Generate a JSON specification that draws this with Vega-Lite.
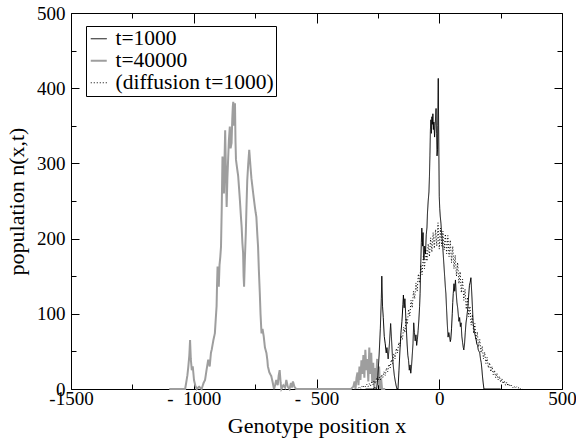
{
  "$schema": "https://vega.github.io/schema/vega-lite/v6.json",
  "width": 491,
  "height": 376,
  "autosize": {"type": "none"},
  "padding": {"left": 71, "top": 13, "right": 14, "bottom": 53},
  "background": "white",
  "config": {
    "view": {"stroke": null},
    "font": "Liberation Serif",
    "axis": {"grid": false, "domain": true, "domainColor": "black", "domainWidth": 1, "zindex": 1, "labelFont": "Liberation Serif", "titleFont": "Liberation Serif", "labelColor": "black", "titleColor": "black", "tickColor": "black", "labelFontSize": 19, "titleFontSize": 22, "titleFontWeight": "normal", "labelFlush": false, "labelOverlap": false},
    "legend": {"labelFont": "Liberation Serif", "labelFontSize": 21.5, "labelColor": "black", "symbolType": "stroke", "symbolSize": 256, "strokeColor": "black", "fillColor": "white", "padding": 2, "rowPadding": -3, "labelOffset": 6, "labelLimit": 300}
  },
  "datasets": {
    "black": [
      {"s":"t=1000","x":-300,"y":0},{"s":"t=1000","x":-270,"y":0},{"s":"t=1000","x":-262,"y":2},{"s":"t=1000","x":-255,"y":0},{"s":"t=1000","x":-250,"y":18},{"s":"t=1000","x":-245,"y":45},{"s":"t=1000","x":-240,"y":80},{"s":"t=1000","x":-236,"y":120},{"s":"t=1000","x":-234,"y":150},{"s":"t=1000","x":-231,"y":110},{"s":"t=1000","x":-228,"y":95},{"s":"t=1000","x":-224,"y":70},{"s":"t=1000","x":-220,"y":60},{"s":"t=1000","x":-216,"y":48},{"s":"t=1000","x":-213,"y":55},{"s":"t=1000","x":-208,"y":40},{"s":"t=1000","x":-203,"y":60},{"s":"t=1000","x":-198,"y":87},{"s":"t=1000","x":-195,"y":70},{"s":"t=1000","x":-191,"y":45},{"s":"t=1000","x":-187,"y":30},{"s":"t=1000","x":-183,"y":18},{"s":"t=1000","x":-180,"y":12},{"s":"t=1000","x":-176,"y":5},{"s":"t=1000","x":-172,"y":0},{"s":"t=1000","x":-168,"y":0},{"s":"t=1000","x":-164,"y":25},{"s":"t=1000","x":-160,"y":52},{"s":"t=1000","x":-156,"y":75},{"s":"t=1000","x":-152,"y":90},{"s":"t=1000","x":-148,"y":112},{"s":"t=1000","x":-146,"y":125},{"s":"t=1000","x":-143,"y":108},{"s":"t=1000","x":-140,"y":120},{"s":"t=1000","x":-137,"y":101},{"s":"t=1000","x":-134,"y":80},{"s":"t=1000","x":-131,"y":60},{"s":"t=1000","x":-128,"y":45},{"s":"t=1000","x":-125,"y":38},{"s":"t=1000","x":-122,"y":25},{"s":"t=1000","x":-119,"y":32},{"s":"t=1000","x":-116,"y":21},{"s":"t=1000","x":-113,"y":30},{"s":"t=1000","x":-110,"y":45},{"s":"t=1000","x":-107,"y":60},{"s":"t=1000","x":-104,"y":88},{"s":"t=1000","x":-101,"y":75},{"s":"t=1000","x":-98,"y":64},{"s":"t=1000","x":-95,"y":72},{"s":"t=1000","x":-92,"y":58},{"s":"t=1000","x":-89,"y":66},{"s":"t=1000","x":-86,"y":78},{"s":"t=1000","x":-83,"y":92},{"s":"t=1000","x":-80,"y":110},{"s":"t=1000","x":-78,"y":127},{"s":"t=1000","x":-75,"y":170},{"s":"t=1000","x":-73,"y":195},{"s":"t=1000","x":-71,"y":214},{"s":"t=1000","x":-68,"y":190},{"s":"t=1000","x":-66,"y":208},{"s":"t=1000","x":-64,"y":175},{"s":"t=1000","x":-62,"y":172},{"s":"t=1000","x":-59,"y":190},{"s":"t=1000","x":-56,"y":180},{"s":"t=1000","x":-53,"y":205},{"s":"t=1000","x":-50,"y":215},{"s":"t=1000","x":-48,"y":234},{"s":"t=1000","x":-45,"y":250},{"s":"t=1000","x":-42,"y":262},{"s":"t=1000","x":-40,"y":282},{"s":"t=1000","x":-38,"y":310},{"s":"t=1000","x":-36,"y":345},{"s":"t=1000","x":-34,"y":358},{"s":"t=1000","x":-32,"y":340},{"s":"t=1000","x":-30,"y":362},{"s":"t=1000","x":-28,"y":352},{"s":"t=1000","x":-26,"y":366},{"s":"t=1000","x":-24,"y":345},{"s":"t=1000","x":-22,"y":355},{"s":"t=1000","x":-19,"y":335},{"s":"t=1000","x":-17,"y":350},{"s":"t=1000","x":-15,"y":360},{"s":"t=1000","x":-13,"y":373},{"s":"t=1000","x":-11,"y":340},{"s":"t=1000","x":-9,"y":310},{"s":"t=1000","x":-7,"y":318},{"s":"t=1000","x":-6,"y":350},{"s":"t=1000","x":-4,"y":413},{"s":"t=1000","x":-2,"y":330},{"s":"t=1000","x":0,"y":256},{"s":"t=1000","x":2,"y":240},{"s":"t=1000","x":4,"y":230},{"s":"t=1000","x":7,"y":220},{"s":"t=1000","x":10,"y":205},{"s":"t=1000","x":13,"y":195},{"s":"t=1000","x":16,"y":180},{"s":"t=1000","x":19,"y":165},{"s":"t=1000","x":22,"y":150},{"s":"t=1000","x":25,"y":135},{"s":"t=1000","x":27,"y":127},{"s":"t=1000","x":30,"y":105},{"s":"t=1000","x":33,"y":85},{"s":"t=1000","x":36,"y":69},{"s":"t=1000","x":39,"y":75},{"s":"t=1000","x":42,"y":70},{"s":"t=1000","x":45,"y":63},{"s":"t=1000","x":47,"y":66},{"s":"t=1000","x":50,"y":80},{"s":"t=1000","x":53,"y":100},{"s":"t=1000","x":55,"y":115},{"s":"t=1000","x":57,"y":127},{"s":"t=1000","x":60,"y":140},{"s":"t=1000","x":63,"y":130},{"s":"t=1000","x":66,"y":145},{"s":"t=1000","x":69,"y":128},{"s":"t=1000","x":72,"y":115},{"s":"t=1000","x":75,"y":108},{"s":"t=1000","x":77,"y":101},{"s":"t=1000","x":80,"y":90},{"s":"t=1000","x":83,"y":95},{"s":"t=1000","x":86,"y":83},{"s":"t=1000","x":89,"y":88},{"s":"t=1000","x":92,"y":70},{"s":"t=1000","x":95,"y":62},{"s":"t=1000","x":98,"y":55},{"s":"t=1000","x":100,"y":52},{"s":"t=1000","x":103,"y":60},{"s":"t=1000","x":106,"y":75},{"s":"t=1000","x":109,"y":88},{"s":"t=1000","x":112,"y":95},{"s":"t=1000","x":114,"y":101},{"s":"t=1000","x":117,"y":110},{"s":"t=1000","x":120,"y":125},{"s":"t=1000","x":123,"y":138},{"s":"t=1000","x":126,"y":142},{"s":"t=1000","x":129,"y":148},{"s":"t=1000","x":132,"y":130},{"s":"t=1000","x":135,"y":110},{"s":"t=1000","x":138,"y":88},{"s":"t=1000","x":141,"y":80},{"s":"t=1000","x":144,"y":75},{"s":"t=1000","x":147,"y":70},{"s":"t=1000","x":150,"y":66},{"s":"t=1000","x":153,"y":60},{"s":"t=1000","x":156,"y":58},{"s":"t=1000","x":159,"y":52},{"s":"t=1000","x":162,"y":50},{"s":"t=1000","x":165,"y":48},{"s":"t=1000","x":168,"y":40},{"s":"t=1000","x":171,"y":35},{"s":"t=1000","x":174,"y":25},{"s":"t=1000","x":176,"y":17},{"s":"t=1000","x":179,"y":8},{"s":"t=1000","x":182,"y":0},{"s":"t=1000","x":250,"y":0}
    ],
    "gray": [
      {"s":"t=40000","x":-1100,"y":0},{"s":"t=40000","x":-1035,"y":0},{"s":"t=40000","x":-1030,"y":10},{"s":"t=40000","x":-1026,"y":18},{"s":"t=40000","x":-1022,"y":30},{"s":"t=40000","x":-1018,"y":45},{"s":"t=40000","x":-1015,"y":65},{"s":"t=40000","x":-1012,"y":40},{"s":"t=40000","x":-1008,"y":25},{"s":"t=40000","x":-1004,"y":30},{"s":"t=40000","x":-999,"y":12},{"s":"t=40000","x":-994,"y":5},{"s":"t=40000","x":-988,"y":0},{"s":"t=40000","x":-978,"y":3},{"s":"t=40000","x":-968,"y":0},{"s":"t=40000","x":-960,"y":8},{"s":"t=40000","x":-954,"y":12},{"s":"t=40000","x":-948,"y":25},{"s":"t=40000","x":-941,"y":39},{"s":"t=40000","x":-935,"y":30},{"s":"t=40000","x":-930,"y":48},{"s":"t=40000","x":-927,"y":52},{"s":"t=40000","x":-920,"y":65},{"s":"t=40000","x":-914,"y":74},{"s":"t=40000","x":-910,"y":95},{"s":"t=40000","x":-907,"y":110},{"s":"t=40000","x":-905,"y":140},{"s":"t=40000","x":-903,"y":163},{"s":"t=40000","x":-900,"y":150},{"s":"t=40000","x":-898,"y":136},{"s":"t=40000","x":-895,"y":165},{"s":"t=40000","x":-892,"y":175},{"s":"t=40000","x":-889,"y":189},{"s":"t=40000","x":-886,"y":240},{"s":"t=40000","x":-883,"y":309},{"s":"t=40000","x":-880,"y":290},{"s":"t=40000","x":-877,"y":260},{"s":"t=40000","x":-875,"y":300},{"s":"t=40000","x":-872,"y":344},{"s":"t=40000","x":-869,"y":290},{"s":"t=40000","x":-866,"y":242},{"s":"t=40000","x":-863,"y":280},{"s":"t=40000","x":-860,"y":305},{"s":"t=40000","x":-857,"y":330},{"s":"t=40000","x":-853,"y":349},{"s":"t=40000","x":-850,"y":320},{"s":"t=40000","x":-846,"y":327},{"s":"t=40000","x":-843,"y":360},{"s":"t=40000","x":-841,"y":375},{"s":"t=40000","x":-839,"y":382},{"s":"t=40000","x":-836,"y":350},{"s":"t=40000","x":-832,"y":380},{"s":"t=40000","x":-830,"y":330},{"s":"t=40000","x":-828,"y":305},{"s":"t=40000","x":-824,"y":295},{"s":"t=40000","x":-819,"y":283},{"s":"t=40000","x":-815,"y":265},{"s":"t=40000","x":-812,"y":251},{"s":"t=40000","x":-808,"y":230},{"s":"t=40000","x":-805,"y":216},{"s":"t=40000","x":-802,"y":195},{"s":"t=40000","x":-799,"y":181},{"s":"t=40000","x":-797,"y":150},{"s":"t=40000","x":-795,"y":136},{"s":"t=40000","x":-792,"y":170},{"s":"t=40000","x":-788,"y":207},{"s":"t=40000","x":-785,"y":245},{"s":"t=40000","x":-782,"y":278},{"s":"t=40000","x":-778,"y":300},{"s":"t=40000","x":-774,"y":318},{"s":"t=40000","x":-771,"y":305},{"s":"t=40000","x":-769,"y":296},{"s":"t=40000","x":-765,"y":280},{"s":"t=40000","x":-761,"y":269},{"s":"t=40000","x":-756,"y":255},{"s":"t=40000","x":-751,"y":242},{"s":"t=40000","x":-748,"y":235},{"s":"t=40000","x":-745,"y":229},{"s":"t=40000","x":-741,"y":205},{"s":"t=40000","x":-738,"y":189},{"s":"t=40000","x":-735,"y":160},{"s":"t=40000","x":-731,"y":128},{"s":"t=40000","x":-728,"y":100},{"s":"t=40000","x":-724,"y":74},{"s":"t=40000","x":-720,"y":80},{"s":"t=40000","x":-715,"y":70},{"s":"t=40000","x":-710,"y":55},{"s":"t=40000","x":-704,"y":48},{"s":"t=40000","x":-700,"y":38},{"s":"t=40000","x":-698,"y":30},{"s":"t=40000","x":-692,"y":22},{"s":"t=40000","x":-684,"y":17},{"s":"t=40000","x":-678,"y":8},{"s":"t=40000","x":-673,"y":0},{"s":"t=40000","x":-668,"y":6},{"s":"t=40000","x":-664,"y":12},{"s":"t=40000","x":-658,"y":5},{"s":"t=40000","x":-654,"y":18},{"s":"t=40000","x":-650,"y":25},{"s":"t=40000","x":-646,"y":8},{"s":"t=40000","x":-643,"y":0},{"s":"t=40000","x":-635,"y":5},{"s":"t=40000","x":-628,"y":2},{"s":"t=40000","x":-623,"y":12},{"s":"t=40000","x":-617,"y":3},{"s":"t=40000","x":-610,"y":0},{"s":"t=40000","x":-604,"y":8},{"s":"t=40000","x":-600,"y":2},{"s":"t=40000","x":-596,"y":10},{"s":"t=40000","x":-590,"y":3},{"s":"t=40000","x":-583,"y":0},{"s":"t=40000","x":-360,"y":0},{"s":"t=40000","x":-350,"y":3},{"s":"t=40000","x":-345,"y":10},{"s":"t=40000","x":-341,"y":0},{"s":"t=40000","x":-337,"y":15},{"s":"t=40000","x":-333,"y":22},{"s":"t=40000","x":-329,"y":5},{"s":"t=40000","x":-325,"y":30},{"s":"t=40000","x":-321,"y":12},{"s":"t=40000","x":-317,"y":38},{"s":"t=40000","x":-313,"y":20},{"s":"t=40000","x":-309,"y":45},{"s":"t=40000","x":-305,"y":15},{"s":"t=40000","x":-301,"y":52},{"s":"t=40000","x":-297,"y":25},{"s":"t=40000","x":-293,"y":40},{"s":"t=40000","x":-289,"y":10},{"s":"t=40000","x":-285,"y":55},{"s":"t=40000","x":-281,"y":20},{"s":"t=40000","x":-277,"y":48},{"s":"t=40000","x":-273,"y":8},{"s":"t=40000","x":-269,"y":35},{"s":"t=40000","x":-265,"y":0},{"s":"t=40000","x":-261,"y":28},{"s":"t=40000","x":-257,"y":12},{"s":"t=40000","x":-253,"y":40},{"s":"t=40000","x":-249,"y":5},{"s":"t=40000","x":-245,"y":30},{"s":"t=40000","x":-241,"y":0},{"s":"t=40000","x":-237,"y":15},{"s":"t=40000","x":-233,"y":0},{"s":"t=40000","x":-220,"y":0}
    ],
    "diff": [
      {"s":"(diffusion t=1000)","x":-330,"y":1},{"s":"(diffusion t=1000)","x":-325,"y":3},{"s":"(diffusion t=1000)","x":-320,"y":1},{"s":"(diffusion t=1000)","x":-315,"y":4},{"s":"(diffusion t=1000)","x":-310,"y":2},{"s":"(diffusion t=1000)","x":-305,"y":5},{"s":"(diffusion t=1000)","x":-300,"y":3},{"s":"(diffusion t=1000)","x":-295,"y":6},{"s":"(diffusion t=1000)","x":-290,"y":3},{"s":"(diffusion t=1000)","x":-285,"y":7},{"s":"(diffusion t=1000)","x":-280,"y":4},{"s":"(diffusion t=1000)","x":-275,"y":9},{"s":"(diffusion t=1000)","x":-270,"y":6},{"s":"(diffusion t=1000)","x":-265,"y":11},{"s":"(diffusion t=1000)","x":-260,"y":7},{"s":"(diffusion t=1000)","x":-255,"y":14},{"s":"(diffusion t=1000)","x":-250,"y":10},{"s":"(diffusion t=1000)","x":-245,"y":16},{"s":"(diffusion t=1000)","x":-240,"y":12},{"s":"(diffusion t=1000)","x":-235,"y":19},{"s":"(diffusion t=1000)","x":-230,"y":15},{"s":"(diffusion t=1000)","x":-225,"y":23},{"s":"(diffusion t=1000)","x":-220,"y":18},{"s":"(diffusion t=1000)","x":-215,"y":28},{"s":"(diffusion t=1000)","x":-210,"y":23},{"s":"(diffusion t=1000)","x":-205,"y":33},{"s":"(diffusion t=1000)","x":-200,"y":28},{"s":"(diffusion t=1000)","x":-195,"y":39},{"s":"(diffusion t=1000)","x":-190,"y":34},{"s":"(diffusion t=1000)","x":-185,"y":47},{"s":"(diffusion t=1000)","x":-180,"y":40},{"s":"(diffusion t=1000)","x":-175,"y":54},{"s":"(diffusion t=1000)","x":-170,"y":48},{"s":"(diffusion t=1000)","x":-165,"y":62},{"s":"(diffusion t=1000)","x":-160,"y":57},{"s":"(diffusion t=1000)","x":-155,"y":71},{"s":"(diffusion t=1000)","x":-150,"y":66},{"s":"(diffusion t=1000)","x":-145,"y":82},{"s":"(diffusion t=1000)","x":-140,"y":75},{"s":"(diffusion t=1000)","x":-135,"y":94},{"s":"(diffusion t=1000)","x":-130,"y":86},{"s":"(diffusion t=1000)","x":-125,"y":106},{"s":"(diffusion t=1000)","x":-120,"y":97},{"s":"(diffusion t=1000)","x":-115,"y":118},{"s":"(diffusion t=1000)","x":-110,"y":108},{"s":"(diffusion t=1000)","x":-105,"y":130},{"s":"(diffusion t=1000)","x":-100,"y":120},{"s":"(diffusion t=1000)","x":-95,"y":141},{"s":"(diffusion t=1000)","x":-90,"y":130},{"s":"(diffusion t=1000)","x":-85,"y":153},{"s":"(diffusion t=1000)","x":-80,"y":141},{"s":"(diffusion t=1000)","x":-75,"y":165},{"s":"(diffusion t=1000)","x":-70,"y":152},{"s":"(diffusion t=1000)","x":-65,"y":176},{"s":"(diffusion t=1000)","x":-60,"y":160},{"s":"(diffusion t=1000)","x":-55,"y":186},{"s":"(diffusion t=1000)","x":-50,"y":170},{"s":"(diffusion t=1000)","x":-45,"y":193},{"s":"(diffusion t=1000)","x":-40,"y":176},{"s":"(diffusion t=1000)","x":-35,"y":201},{"s":"(diffusion t=1000)","x":-30,"y":182},{"s":"(diffusion t=1000)","x":-25,"y":208},{"s":"(diffusion t=1000)","x":-20,"y":187},{"s":"(diffusion t=1000)","x":-15,"y":212},{"s":"(diffusion t=1000)","x":-10,"y":190},{"s":"(diffusion t=1000)","x":-5,"y":221},{"s":"(diffusion t=1000)","x":0,"y":186},{"s":"(diffusion t=1000)","x":5,"y":214},{"s":"(diffusion t=1000)","x":10,"y":190},{"s":"(diffusion t=1000)","x":15,"y":210},{"s":"(diffusion t=1000)","x":20,"y":185},{"s":"(diffusion t=1000)","x":25,"y":206},{"s":"(diffusion t=1000)","x":30,"y":180},{"s":"(diffusion t=1000)","x":35,"y":204},{"s":"(diffusion t=1000)","x":40,"y":176},{"s":"(diffusion t=1000)","x":45,"y":198},{"s":"(diffusion t=1000)","x":50,"y":168},{"s":"(diffusion t=1000)","x":55,"y":190},{"s":"(diffusion t=1000)","x":60,"y":160},{"s":"(diffusion t=1000)","x":65,"y":178},{"s":"(diffusion t=1000)","x":70,"y":150},{"s":"(diffusion t=1000)","x":75,"y":168},{"s":"(diffusion t=1000)","x":80,"y":140},{"s":"(diffusion t=1000)","x":85,"y":156},{"s":"(diffusion t=1000)","x":90,"y":128},{"s":"(diffusion t=1000)","x":95,"y":146},{"s":"(diffusion t=1000)","x":100,"y":118},{"s":"(diffusion t=1000)","x":105,"y":133},{"s":"(diffusion t=1000)","x":110,"y":106},{"s":"(diffusion t=1000)","x":115,"y":122},{"s":"(diffusion t=1000)","x":120,"y":96},{"s":"(diffusion t=1000)","x":125,"y":110},{"s":"(diffusion t=1000)","x":130,"y":85},{"s":"(diffusion t=1000)","x":135,"y":99},{"s":"(diffusion t=1000)","x":140,"y":74},{"s":"(diffusion t=1000)","x":145,"y":87},{"s":"(diffusion t=1000)","x":150,"y":65},{"s":"(diffusion t=1000)","x":155,"y":76},{"s":"(diffusion t=1000)","x":160,"y":56},{"s":"(diffusion t=1000)","x":165,"y":66},{"s":"(diffusion t=1000)","x":170,"y":48},{"s":"(diffusion t=1000)","x":175,"y":57},{"s":"(diffusion t=1000)","x":180,"y":40},{"s":"(diffusion t=1000)","x":185,"y":49},{"s":"(diffusion t=1000)","x":190,"y":34},{"s":"(diffusion t=1000)","x":195,"y":42},{"s":"(diffusion t=1000)","x":200,"y":28},{"s":"(diffusion t=1000)","x":205,"y":35},{"s":"(diffusion t=1000)","x":210,"y":23},{"s":"(diffusion t=1000)","x":215,"y":30},{"s":"(diffusion t=1000)","x":220,"y":19},{"s":"(diffusion t=1000)","x":225,"y":25},{"s":"(diffusion t=1000)","x":230,"y":15},{"s":"(diffusion t=1000)","x":235,"y":21},{"s":"(diffusion t=1000)","x":240,"y":12},{"s":"(diffusion t=1000)","x":245,"y":17},{"s":"(diffusion t=1000)","x":250,"y":9},{"s":"(diffusion t=1000)","x":255,"y":14},{"s":"(diffusion t=1000)","x":260,"y":7},{"s":"(diffusion t=1000)","x":265,"y":11},{"s":"(diffusion t=1000)","x":270,"y":5},{"s":"(diffusion t=1000)","x":275,"y":9},{"s":"(diffusion t=1000)","x":280,"y":4},{"s":"(diffusion t=1000)","x":285,"y":7},{"s":"(diffusion t=1000)","x":290,"y":3},{"s":"(diffusion t=1000)","x":295,"y":5},{"s":"(diffusion t=1000)","x":300,"y":2},{"s":"(diffusion t=1000)","x":305,"y":4},{"s":"(diffusion t=1000)","x":310,"y":1},{"s":"(diffusion t=1000)","x":315,"y":3},{"s":"(diffusion t=1000)","x":320,"y":1},{"s":"(diffusion t=1000)","x":325,"y":2},{"s":"(diffusion t=1000)","x":330,"y":0},{"s":"(diffusion t=1000)","x":335,"y":1},{"s":"(diffusion t=1000)","x":340,"y":0}
    ]
  },
  "encoding": {
    "color": {"field": "s", "type": "nominal", "scale": {"domain": ["t=1000", "t=40000", "(diffusion t=1000)"], "range": ["black", "#9e9e9e", "black"]}, "legend": {"orient": "none", "legendX": 15, "legendY": 13, "title": null}},
    "strokeDash": {"field": "s", "type": "nominal", "scale": {"domain": ["t=1000", "t=40000", "(diffusion t=1000)"], "range": [[1, 0], [1, 0], [1, 2]]}, "legend": {"orient": "none", "legendX": 15, "legendY": 13, "title": null}},
    "strokeWidth": {"field": "s", "type": "nominal", "scale": {"type": "ordinal", "domain": ["t=1000", "t=40000", "(diffusion t=1000)"], "range": [1, 2, 1]}, "legend": {"orient": "none", "legendX": 15, "legendY": 13, "title": null}}
  },
  "layer": [
    {
      "data": {"name": "gray"},
      "mark": {"type": "line", "interpolate": "linear"},
      "encoding": {
        "x": {"field": "x", "type": "quantitative", "scale": {"domain": [-1500, 500], "nice": false, "zero": false}, "axis": {"orient": "bottom", "title": "Genotype position x", "values": [-1500, -1250, -1000, -750, -500, -250, 0, 250, 500], "labelExpr": "datum.value == -1000 ? '-\u00a0\u00a01000' : datum.value == -500 ? '-\u00a0\u00a0500' : datum.value % 500 == 0 ? toString(datum.value) : ''", "tickSize": {"condition": {"test": "datum.value % 500 == 0", "value": -10}, "value": -5}, "labelPadding": 10, "titlePadding": 2}},
        "y": {"field": "y", "type": "quantitative", "scale": {"domain": [0, 500], "nice": false}, "axis": {"orient": "left", "title": "population n(x,t)", "values": [0, 50, 100, 150, 200, 250, 300, 350, 400, 450, 500], "labelExpr": "datum.value % 100 == 0 ? toString(datum.value) : ''", "tickSize": {"condition": {"test": "datum.value % 100 == 0", "value": -8}, "value": -5}, "labelPadding": 14, "titlePadding": 8}}
      }
    },
    {
      "data": {"name": "diff"},
      "mark": {"type": "line", "interpolate": "linear"},
      "encoding": {
        "x": {"field": "x", "type": "quantitative", "scale": {"domain": [-1500, 500], "nice": false, "zero": false}, "axis": null},
        "y": {"field": "y", "type": "quantitative", "scale": {"domain": [0, 500], "nice": false}, "axis": null}
      }
    },
    {
      "data": {"name": "black"},
      "mark": {"type": "line", "interpolate": "linear"},
      "encoding": {
        "x": {"field": "x", "type": "quantitative", "scale": {"domain": [-1500, 500], "nice": false, "zero": false}, "axis": {"orient": "top", "title": null, "labels": false, "values": [-1500, -1250, -1000, -750, -500, -250, 0, 250, 500], "tickSize": {"condition": {"test": "datum.value % 500 == 0", "value": -10}, "value": -5}}},
        "y": {"field": "y", "type": "quantitative", "scale": {"domain": [0, 500], "nice": false}, "axis": {"orient": "right", "title": null, "labels": false, "values": [0, 50, 100, 150, 200, 250, 300, 350, 400, 450, 500], "tickSize": {"condition": {"test": "datum.value % 100 == 0", "value": -8}, "value": -5}}}
      }
    }
  ],
  "resolve": {"axis": {"x": "independent", "y": "independent"}}
}
